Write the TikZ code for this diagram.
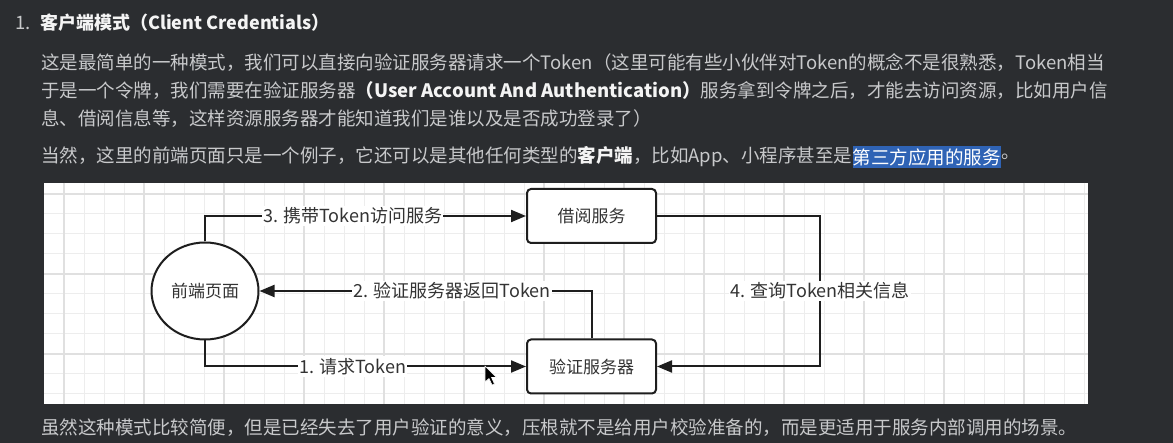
\documentclass[tikz,border=0pt]{standalone}
\usepackage{fontspec}
\setmainfont{Noto Sans CJK SC}
\usetikzlibrary{arrows.meta,shapes.geometric}
\definecolor{bg}{HTML}{2B2D30}
\definecolor{txt}{HTML}{C8C9CB}
\definecolor{txtb}{HTML}{F4F4F4}
\definecolor{hl}{HTML}{2F63B5}
\definecolor{gminor}{HTML}{EDEDED}
\definecolor{gmajor}{HTML}{E0E0E0}
\definecolor{ink}{HTML}{1E1E1E}
\definecolor{labtxt}{HTML}{333333}
\begin{document}
\begin{tikzpicture}[x=1pt,y=-1pt,
  para/.style={anchor=west, inner sep=0pt, text=txt, font=\fontsize{18.5}{22}\selectfont},
  boxnode/.style={draw=ink, line width=2pt, rounded corners=4pt, fill=white, minimum width=129pt, minimum height=54pt, inner sep=0pt, font=\fontsize{17}{20}\selectfont, text=labtxt},
  ellnode/.style={ellipse, draw=ink, line width=2pt, fill=white, minimum width=107pt, minimum height=97pt, inner sep=0pt, font=\fontsize{17}{20}\selectfont, text=labtxt},
  arr/.style={draw=ink, line width=2pt, -{Triangle[length=15pt,width=12pt]}},
  lbl/.style={fill=white, inner xsep=1pt, inner ysep=2pt, font=\fontsize{18}{20}\selectfont, text=labtxt}]
\useasboundingbox (0,0) rectangle (1173,443);
\fill[bg] (0,0) rectangle (1173,443);
% text
\node[para] (num) at (15,23) {1.};
\node[para, text=txtb, font=\fontsize{18}{22}\selectfont\bfseries] (head) at (40,23) {客户端模式（Client Credentials）};
\node[para] (l1) at (41,63) {这是最简单的一种模式，我们可以直接向验证服务器请求一个Token（这里可能有些小伙伴对Token的概念不是很熟悉，Token相当};
\node[para] (l2) at (41,91) {于是一个令牌，我们需要在验证服务器{\bfseries\color{txtb}（User Account And Authentication）}服务拿到令牌之后，才能去访问资源，比如用户信};
\node[para] (l3) at (41,119) {息、借阅信息等，这样资源服务器才能知道我们是谁以及是否成功登录了）};
\node[para] (l4a) at (41,157) {当然，这里的前端页面只是一个例子，它还可以是其他任何类型的{\bfseries\color{txtb}客户端}，比如App、小程序甚至是};
\node[para, fill=hl, text=white, inner ysep=2pt] (l4b) at (l4a.east) {第三方应用的服务};
\node[para] (l4c) at (l4b.east) {。};
\node[para] (l5) at (41,428) {虽然这种模式比较简便，但是已经失去了用户验证的意义，压根就不是给用户校验准备的，而是更适用于服务内部调用的场景。};
% panel
\fill[white] (44,183) rectangle (1088,404);
\foreach \x in {64,84,...,1084} \draw[gminor, line width=1pt] (\x,183) -- (\x,404);
\foreach \y in {194,214,...,394} \draw[gminor, line width=1pt] (44,\y) -- (1088,\y);
\foreach \x in {64,144,...,1024} \draw[gmajor, line width=1.2pt] (\x,183) -- (\x,404);
\foreach \y in {194,274,354} \draw[gmajor, line width=1.2pt] (44,\y) -- (1088,\y);
% nodes
\node[ellnode] (fe) at (205,291) {前端页面};
\node[boxnode] (jy) at (591.5,216) {借阅服务};
\node[boxnode] (yz) at (591.5,366.5) {验证服务器};
\coordinate (r4) at (820,291);
% connectors
\draw[arr] (fe.north) |- (jy.west) node[lbl, pos=0.73] {3. 携带Token访问服务};
\draw[arr] (yz.north) |- (fe.east) node[lbl, pos=0.71] {2. 验证服务器返回Token};
\draw[arr] (fe.south) |- (yz.west) node[lbl, pos=0.73] {1. 请求Token};
\draw[arr] (jy.east) -| (r4) node[lbl] {4. 查询Token相关信息} |- (yz.east);
% cursor
\filldraw[fill=black, draw=white, line width=0.6pt, line join=round] (485,366) -- (485,382) -- (489,378.5) -- (492,385) -- (494.5,384) -- (491.5,377.5) -- (496.5,377.5) -- cycle;
\end{tikzpicture}
\end{document}
